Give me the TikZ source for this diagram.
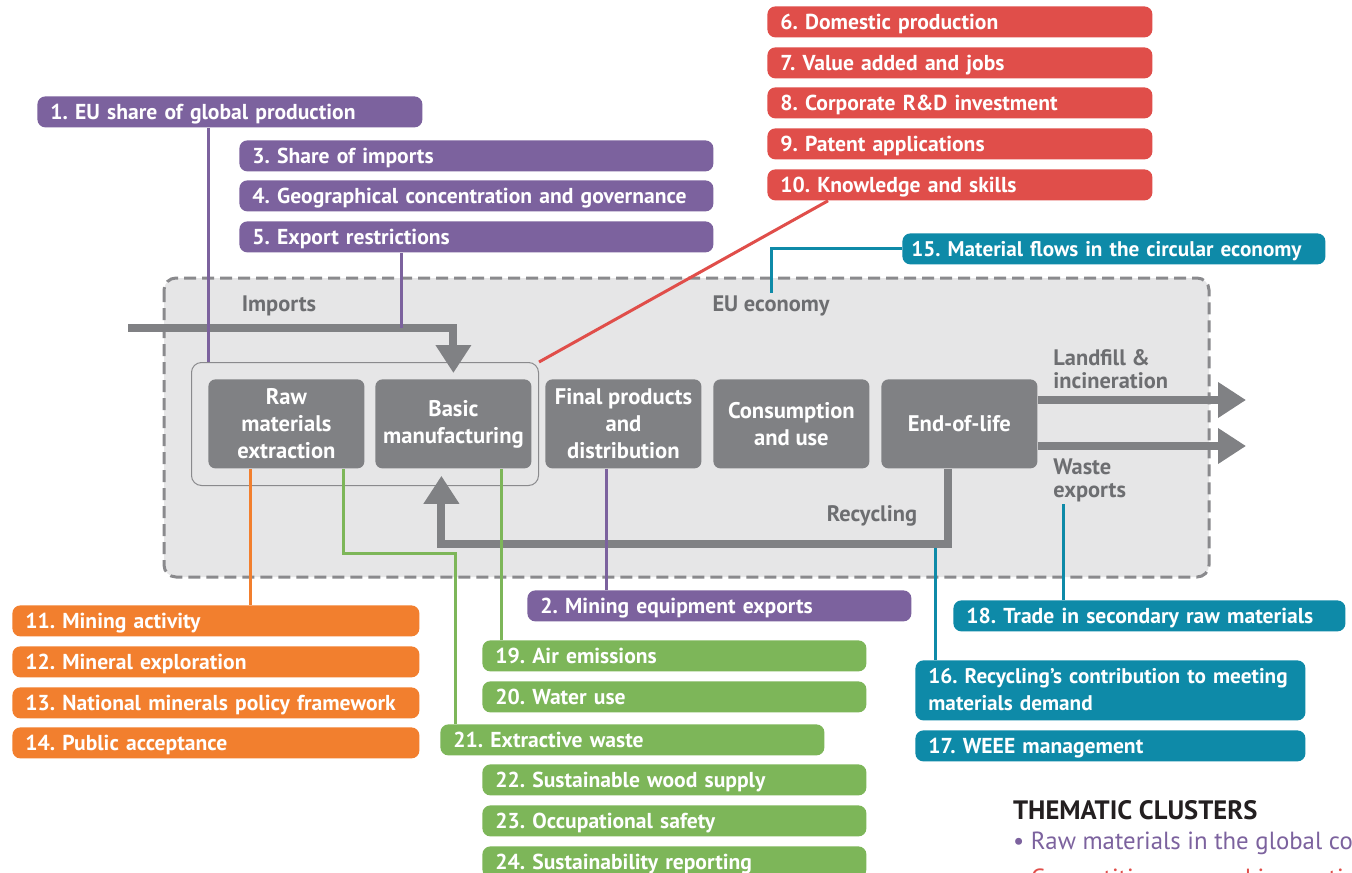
\documentclass[tikz,border=0pt]{standalone}
\usepackage{fontspec}
\setmainfont{PT Sans}
\usepackage{tikz}
\usetikzlibrary{positioning,calc,arrows.meta}
\usepackage{xcolor}
\definecolor{clpurple}{RGB}{124,98,158}
\definecolor{clred}{RGB}{224,78,74}
\definecolor{clorange}{RGB}{242,127,46}
\definecolor{clgreen}{RGB}{125,182,89}
\definecolor{clteal}{RGB}{14,138,168}
\definecolor{procgray}{RGB}{128,129,132}
\definecolor{bggray}{RGB}{230,230,231}
\definecolor{dashgray}{RGB}{138,138,141}
\definecolor{labelgray}{RGB}{109,110,113}
\definecolor{legendink}{RGB}{35,31,32}
\frenchspacing

\begin{document}
\begin{tikzpicture}[x=0.5pt,y=-0.5pt,
  ind/.style={rectangle,rounded corners=4pt,fill=#1,text=white,font=\bfseries\fontsize{10.8}{13.5}\selectfont,align=left,inner xsep=6.5pt,inner ysep=0pt,text depth=0pt,minimum height=15.5pt,anchor=north west},
  proc/.style={rectangle,rounded corners=3.5pt,fill=procgray,text=white,font=\bfseries\fontsize{11.3}{13.5}\selectfont,align=center,minimum width=78pt,minimum height=44.5pt,inner sep=0pt,anchor=north west},
  flow/.style={draw=procgray,line width=4pt,-{Triangle[length=14pt,width=17pt]}},
  link/.style={draw=#1,line width=1.5pt},
  lbl/.style={text=labelgray,font=\bfseries\fontsize{11.2}{11.5}\selectfont,inner sep=1pt}]
  \clip (0,0) rectangle (1352,872);
  \fill[white] (0,0) rectangle (1352,872);

  \draw[fill=bggray,draw=dashgray,line width=1.5pt,dash pattern=on 6pt off 3pt,rounded corners=6pt] (164,278) rectangle (1209,577);
  \node[draw=dashgray,line width=0.5pt,rounded corners=5pt,minimum width=173.5pt,minimum height=61.5pt,inner sep=0pt,anchor=north west] (upstream) at (191,362) {};

  \node[proc] (raw) at (208,379) {Raw\\materials\\extraction};
  \node[proc] (basic) at (375,379) {Basic\\manufacturing};
  \node[proc] (final) at (545,379) {Final products\\and\\distribution};
  \node[proc] (cons) at (713,379) {Consumption\\and use};
  \node[proc] (eol) at (881,379) {End-of-life};

  \node[lbl] (implbl) at (279,306) {Imports};
  \node[lbl] (eulbl) at (771,306) {EU economy};
  \node[lbl,anchor=west,align=left] (landlbl) at (1051,369) {Landfill \&\\incineration};
  \node[lbl,anchor=west,align=left] (wastelbl) at (1051,480) {Waste\\exports};
  \node[lbl] (recylbl) at (872,516) {Recycling};

  \node[ind=clpurple,text width=179.5pt] (share) at (37,96) {1. EU share of global production};
  \node[ind=clpurple,text width=224pt] (imports) at (239,140) {3. Share of imports};
  \node[ind=clpurple,text width=224pt] (geo) at (239,180) {4. Geographical concentration and governance};
  \node[ind=clpurple,text width=224pt] (restr) at (239,221) {5. Export restrictions};
  \node[ind=clpurple,text width=179pt] (equip) at (527,590) {2. Mining equipment exports};

  \node[ind=clred,text width=179.5pt] (dom) at (767,6) {6. Domestic production};
  \node[ind=clred,text width=179.5pt] (value) at (767,47) {7. Value added and jobs};
  \node[ind=clred,text width=179.5pt] (rd) at (767,87) {8. Corporate R\&D investment};
  \node[ind=clred,text width=179.5pt] (patent) at (767,128) {9. Patent applications};
  \node[ind=clred,text width=179.5pt] (know) at (767,169) {10. Knowledge and skills};

  \node[ind=clorange,text width=190.5pt] (mining) at (12,605) {11. Mining activity};
  \node[ind=clorange,text width=190.5pt] (explo) at (12,646) {12. Mineral exploration};
  \node[ind=clorange,text width=190.5pt] (policy) at (12,687) {13. National minerals policy framework};
  \node[ind=clorange,text width=190.5pt] (accept) at (12,727) {14. Public acceptance};

  \node[ind=clteal,text width=202.5pt,inner xsep=4.5pt,font=\bfseries\fontsize{10.6}{13.5}\selectfont] (circ) at (902,233) {\mbox{15. Material flows in the circular economy}};
  \node[ind=clteal,text width=182pt,minimum height=30pt,text depth=14pt,font=\bfseries\fontsize{10.6}{13.5}\selectfont] (recdem) at (915,660) {\mbox{16. Recycling’s contribution to meeting}\\materials demand};
  \node[ind=clteal,text width=182pt] (weee) at (915,730) {17. WEEE management};
  \node[ind=clteal,text width=183pt] (trade) at (953,600) {18. Trade in secondary raw materials};

  \node[ind=clgreen,text width=179pt] (air) at (482,640) {19. Air emissions};
  \node[ind=clgreen,text width=179pt] (water) at (482,681) {20. Water use};
  \node[ind=clgreen,text width=179pt] (exwaste) at (440,724) {21. Extractive waste};
  \node[ind=clgreen,text width=179pt] (wood) at (482,764) {22. Sustainable wood supply};
  \node[ind=clgreen,text width=179pt] (safety) at (482,805) {23. Occupational safety};
  \node[ind=clgreen,text width=179pt] (report) at (482,846) {24. Sustainability reporting};

  \coordinate (impin) at (128,328);
  \coordinate (landout) at (1246,400);
  \coordinate (wasteout) at (1246,446);
  \draw[flow,shorten >=3pt] (impin) -| (basic.north);
  \draw[flow] (landout -| eol.east) -- (landout);
  \draw[flow] (wasteout -| eol.east) -- (wasteout);
  \draw[flow,shorten >=3.5pt] ([xshift=-5.5pt]eol.south) -- ++(0,75) coordinate (rknee) -| ([xshift=-6pt]basic.south);

  \draw[link=clpurple] (share.south -| raw.west) -- (upstream.north -| raw.west);
  \draw[link=clpurple] ([xshift=81pt]restr.south west) coordinate (r5) -- (r5 |- impin);
  \draw[link=clpurple] ([xshift=-8.5pt]final.south) coordinate (p2) -- (p2 |- equip.north);
  \draw[link=clred] ([xshift=30.5pt]know.south west) -- (upstream.north east);
  \draw[link=clteal] (circ.west) -| (eulbl.north);
  \draw[link=clteal] ([shift={(-6.5pt,-2pt)}]rknee) coordinate (t16) -- (t16 |- recdem.north);
  \draw[link=clteal] ([xshift=55pt]trade.north west) coordinate (t18) -- (t18 |- wastelbl.south);
  \draw[link=clorange] ([xshift=-18pt]raw.south) coordinate (o11) -- (o11 |- mining.north);
  \draw[link=clgreen] ([xshift=28.5pt]raw.south) -- ++(0,85) -| ([xshift=7.5pt]exwaste.north west);
  \draw[link=clgreen] ([xshift=24pt]basic.south) coordinate (g19) -- (g19 |- air.north);

  \node[anchor=west,text=legendink,font=\bfseries\fontsize{13.3}{15}\selectfont] (legtitle) at (1006,810) {THEMATIC CLUSTERS};
  \node[anchor=west,text=clpurple,font=\fontsize{12.4}{14}\selectfont] (legone) at (1006,843) {• Raw materials in the global context};
  \node[anchor=west,text=clred,font=\fontsize{12.4}{14}\selectfont] (legtwo) at (1006,880) {• Competitiveness and innovation};
\end{tikzpicture}
\end{document}
